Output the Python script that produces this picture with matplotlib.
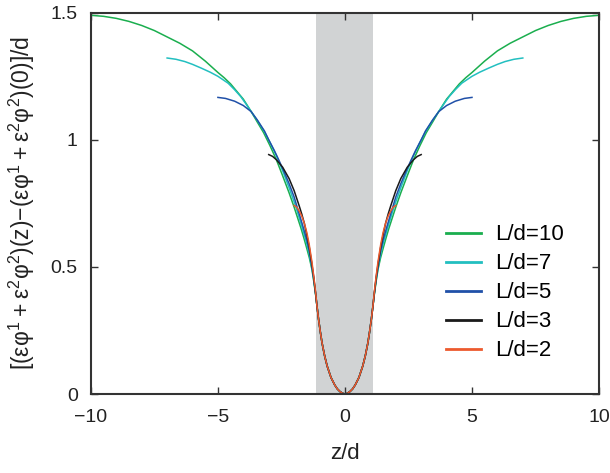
import matplotlib
matplotlib.use("Agg")
import matplotlib.pyplot as plt
import numpy as np

plt.rcParams['font.family'] = ['Liberation Sans', 'DejaVu Sans']
plt.rcParams['mathtext.fontset'] = 'custom'
plt.rcParams['mathtext.rm'] = 'Liberation Sans'

# half profiles (z >= 0), the curves are symmetric about z = 0
# shared core inside the shaded slab
z_core = [0.0, 0.1, 0.2, 0.3, 0.4, 0.55, 0.7, 0.8, 0.9, 0.97, 1.04, 1.1]
v_core = [0.0, 0.003, 0.01, 0.02, 0.035, 0.065, 0.11, 0.15, 0.2, 0.245, 0.295, 0.345]

# outer parts for each L/d
z_red = [1.16, 1.23, 1.3, 1.41, 1.5, 1.6, 1.7, 1.8, 1.9, 2.0]
v_red = [0.405, 0.465, 0.52, 0.59, 0.635, 0.672, 0.70, 0.72, 0.735, 0.742]

z_black = [1.16, 1.23, 1.3, 1.4, 1.5, 1.6, 1.7, 1.8, 2.0, 2.2, 2.45, 2.7, 2.85, 3.0]
v_black = [0.40, 0.46, 0.51, 0.575, 0.625, 0.672, 0.708, 0.74, 0.80, 0.848, 0.892, 0.922, 0.935, 0.942]

z_blue = [1.16, 1.23, 1.3, 1.4, 1.5, 1.67, 1.85, 2.0, 2.2, 2.39, 2.6, 2.78, 3.0, 3.17,
          3.45, 3.69, 4.0, 4.34, 4.7, 5.0]
v_blue = [0.40, 0.455, 0.50, 0.56, 0.605, 0.665, 0.725, 0.775, 0.828, 0.873, 0.92, 0.958, 1.0, 1.035,
          1.078, 1.111, 1.135, 1.152, 1.163, 1.167]

z_cyan = [1.16, 1.23, 1.3, 1.4, 1.5, 1.7, 1.95, 2.2, 2.45, 2.7, 2.95, 3.17, 3.45, 3.69, 3.9,
          4.1, 4.35, 4.6, 5.0, 5.3, 5.65, 6.0, 6.3, 6.65, 7.0]
v_cyan = [0.398, 0.45, 0.495, 0.548, 0.59, 0.66, 0.742, 0.812, 0.878, 0.938, 0.99, 1.032, 1.077, 1.111, 1.142,
          1.17, 1.198, 1.223, 1.25, 1.266, 1.282, 1.297, 1.308, 1.317, 1.322]

z_green = [1.16, 1.23, 1.3, 1.4, 1.5, 1.62, 1.73, 2.0, 2.2, 2.45, 2.7, 2.95, 3.2, 3.45, 3.69, 4.0,
           4.25, 4.5, 4.75, 5.0, 5.5, 6.0, 6.5, 7.0, 7.5, 8.0, 8.5, 9.0, 9.5, 10.0]
v_green = [0.395, 0.445, 0.49, 0.535, 0.572, 0.615, 0.652, 0.735, 0.792, 0.858, 0.922, 0.977, 1.028, 1.07, 1.111, 1.16,
           1.19, 1.22, 1.244, 1.265, 1.31, 1.35, 1.38, 1.405, 1.43, 1.45, 1.466, 1.478, 1.486, 1.49]

labels = ['L/d=10', 'L/d=7', 'L/d=5', 'L/d=3', 'L/d=2']
colors = ['#1aae4e', '#22bfc0', '#2050a8', '#1a1a1a', '#ec5a2e']
outer_z = [z_green, z_cyan, z_blue, z_black, z_red]
outer_v = [v_green, v_cyan, v_blue, v_black, v_red]

slab = (-1.12, 1.12)
ytick_vals = [0, 0.5, 1, 1.5]
ytick_labels = ['0', '0.5', '1', '1.5']

fig = plt.figure(figsize=(6.1, 4.73), dpi=100)
ax = fig.add_axes([0.149, 0.167, 0.833, 0.806])

ax.axvspan(slab[0], slab[1], color='#d1d3d4', lw=0, zorder=0)

for zo, vo, c, lab in zip(outer_z, outer_v, colors, labels):
    zh = np.array(z_core + zo)
    vh = np.array(v_core + vo)
    z = np.concatenate([-zh[::-1], zh[1:]])
    v = np.concatenate([vh[::-1], vh[1:]])
    ax.plot(z, v, color=c, lw=1.1, label=lab)

ax.set_xlim(-10, 10)
ax.set_ylim(0, 1.5)
ax.set_xticks([-10, -5, 0, 5, 10])
ax.set_yticks(ytick_vals)
ax.set_yticklabels(ytick_labels)
ax.tick_params(direction='in', top=True, right=True, labelsize=14, length=5,
               width=1, colors='#333333', labelcolor='#222222')
ax.tick_params(axis='x', pad=11)
ax.tick_params(axis='y', pad=9.5)
for s in ax.spines.values():
    s.set_linewidth(1.5)
    s.set_color('#333333')

ax.set_xlabel('z/d', fontsize=16, color='#222222', labelpad=12)
ax.set_ylabel(r'[($\mathregular{εφ^1+ε^2φ^2}$)(z)$\mathregular{-}$($\mathregular{εφ^1+ε^2φ^2}$)(0)]/d',
              fontsize=16.5, color='#222222', labelpad=10)

leg = ax.legend(loc='upper left', bbox_to_anchor=(0.682, 0.468), frameon=False,
                fontsize=16, handlelength=1.58, handletextpad=0.63, labelspacing=0.36,
                borderaxespad=0)
for h in leg.get_lines():
    h.set_linewidth(2)

fig.savefig('out.png', dpi=100)
